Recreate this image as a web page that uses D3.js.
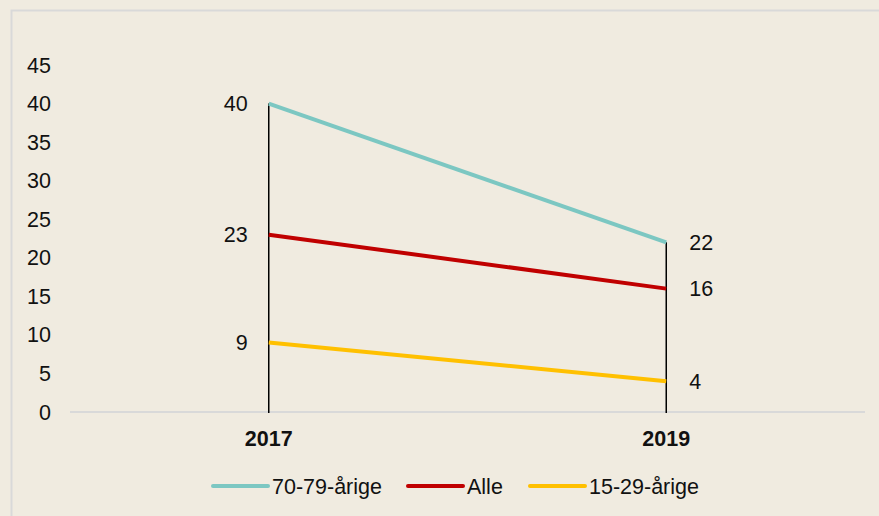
<!DOCTYPE html>
<html>
<head>
<meta charset="utf-8">
<script src="https://cdn.jsdelivr.net/npm/d3@7"></script>
<style>
  body { margin: 0; background: #f0ebe0; }
  svg { display: block; font-family: "Liberation Sans", Arial, sans-serif; }
</style>
</head>
<body>
<div id="chart"></div>
<script>
(function () {

    var years = ["2017", "2019"];
    var seriesNames = ["70-79-årige", "Alle", "15-29-årige"];
    var seriesColors = ["#7cc7c2", "#c00000", "#ffc000"];
    var values_7079 = [40, 22];
    var values_alle = [23, 16];
    var values_1529 = [9, 4];
    var yTicks = [0, 5, 10, 15, 20, 25, 30, 35, 40, 45];

    var series = [values_7079, values_alle, values_1529].map(function (v, i) {
        return { name: seriesNames[i], color: seriesColors[i], values: v };
    });

    var w = 879, h = 516;
    var margin = {top: 65, right: 14, bottom: 104, left: 70};
    var fs = "21.5px";

    var svg = d3.select("#chart")
        .append("svg")
        .attr("width", w)
        .attr("height", h);

    svg.append("rect")
        .attr("width", w).attr("height", h)
        .attr("fill", "#f0ebe0");

    // outer frame
    svg.append("rect")
        .attr("x", 11.5).attr("y", 10.5)
        .attr("width", w + 10).attr("height", h + 10)
        .attr("fill", "none")
        .attr("stroke", "#d9d9d9")
        .attr("stroke-width", 2);

    var x = d3.scaleBand()
        .domain(years)
        .range([margin.left, w - margin.right]);

    var y = d3.scaleLinear()
        .domain([0, 45])
        .range([h - margin.bottom, margin.top]);

    var cx = function (d) { return x(d) + x.bandwidth() / 2; };

    // y tick labels
    svg.selectAll(".ytick")
        .data(yTicks)
        .enter().append("text")
        .attr("class", "ytick")
        .attr("x", 51)
        .attr("y", function (d) { return y(d); })
        .attr("dy", "0.35em")
        .style("text-anchor", "end")
        .style("font-size", fs)
        .attr("fill", "#111")
        .text(function (d) { return d; });

    // baseline
    svg.append("line")
        .attr("x1", margin.left).attr("x2", w - margin.right)
        .attr("y1", y(0)).attr("y2", y(0))
        .attr("stroke", "#d9d9d9")
        .attr("stroke-width", 2);

    // drop lines
    svg.selectAll(".drop")
        .data(years)
        .enter().append("line")
        .attr("x1", cx).attr("x2", cx)
        .attr("y1", function (d, i) {
            return y(d3.max(series, function (s) { return s.values[i]; }));
        })
        .attr("y2", y(0) + 1)
        .attr("stroke", "#000")
        .attr("stroke-width", 1.5);

    var line = d3.line()
        .x(function (d, i) { return cx(years[i]); })
        .y(function (d) { return y(d); });

    svg.selectAll(".series")
        .data(series)
        .enter().append("path")
        .attr("d", function (s) { return line(s.values); })
        .attr("fill", "none")
        .attr("stroke", function (s) { return s.color; })
        .attr("stroke-width", 4);

    // value labels
    series.forEach(function (s) {
        svg.append("text")
            .attr("x", cx(years[0]) - 21)
            .attr("y", y(s.values[0]))
            .attr("dy", "0.35em")
            .style("text-anchor", "end")
            .style("font-size", fs)
            .attr("fill", "#111")
            .text(s.values[0]);
        svg.append("text")
            .attr("x", cx(years[1]) + 23)
            .attr("y", y(s.values[1]))
            .attr("dy", "0.35em")
            .style("text-anchor", "start")
            .style("font-size", fs)
            .attr("fill", "#111")
            .text(s.values[1]);
    });

    // year labels
    svg.selectAll(".year")
        .data(years)
        .enter().append("text")
        .attr("x", cx)
        .attr("y", 438)
        .attr("dy", "0.35em")
        .style("text-anchor", "middle")
        .style("font-size", fs)
        .style("font-weight", "bold")
        .attr("fill", "#111")
        .text(function (d) { return d; });

    // legend
    var legendX = [213, 408, 530];
    var leg = svg.selectAll(".legend")
        .data(series)
        .enter().append("g")
        .attr("transform", function (d, i) { return "translate(" + legendX[i] + ",486)"; });

    leg.append("line")
        .attr("x1", 0).attr("x2", 55)
        .attr("stroke", function (d) { return d.color; })
        .attr("stroke-width", 4)
        .attr("stroke-linecap", "round");

    leg.append("text")
        .attr("x", 59)
        .attr("dy", "0.35em")
        .style("font-size", fs)
        .attr("fill", "#111")
        .text(function (d) { return d.name; });
})();
</script>
</body>
</html>
